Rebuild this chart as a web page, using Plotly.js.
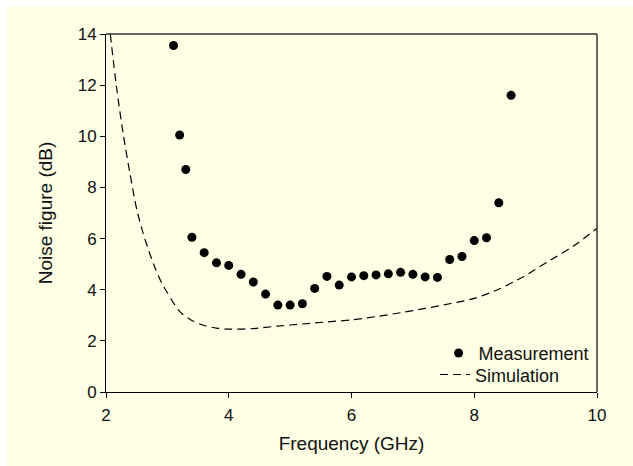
<!DOCTYPE html>
<html>
<head>
<meta charset="utf-8">
<script src="https://cdn.plot.ly/plotly-3.0.1.min.js"></script>
<style>
  html, body { margin: 0; padding: 0; background: #ffffff; }
  #chart { position: absolute; left: 6px; top: 7px; width: 627px; height: 459px; }
</style>
</head>
<body>
<div id="chart"></div>
<script>
// Measurement data (frequency in GHz, noise figure in dB)
const measFreq = [3.1, 3.2, 3.3, 3.4, 3.6, 3.8, 4.0, 4.2, 4.4, 4.6, 4.8, 5.0, 5.2, 5.4, 5.6, 5.8,
                  6.0, 6.2, 6.4, 6.6, 6.8, 7.0, 7.2, 7.4, 7.6, 7.8, 8.0, 8.2, 8.4, 8.6];
const measNF   = [13.55, 10.05, 8.7, 6.05, 5.45, 5.05, 4.95, 4.6, 4.3, 3.83, 3.4, 3.4, 3.45, 4.05, 4.52, 4.18,
                  4.5, 4.55, 4.58, 4.62, 4.68, 4.6, 4.5, 4.48, 5.18, 5.3, 5.92, 6.03, 7.4, 11.6];

// Simulation curve
const simFreq = [2.07, 2.17, 2.28, 2.39, 2.5, 2.6, 2.7, 2.8, 2.9, 3.0, 3.2, 3.4, 3.6, 3.8, 4.0, 4.4,
                 4.8, 5.2, 5.6, 6.0, 6.4, 6.8, 7.2, 7.6, 8.0, 8.4, 8.8, 9.2, 9.6, 10.0];
const simNF   = [14.0, 11.95, 10.1, 8.55, 7.15, 6.25, 5.5, 4.85, 4.3, 3.88, 3.15, 2.8, 2.6, 2.5, 2.46, 2.48,
                 2.58, 2.66, 2.74, 2.82, 2.95, 3.1, 3.27, 3.45, 3.66, 4.02, 4.51, 5.1, 5.68, 6.4];

const xTicks = [2, 4, 6, 8, 10];
const yTicks = [0, 2, 4, 6, 8, 10, 12, 14];

const font = 'Arial, "Liberation Sans", sans-serif';

const traces = [
  {
    x: measFreq, y: measNF, type: 'scatter', mode: 'markers', name: 'Measurement',
    marker: { color: '#000000', size: 9, symbol: 'circle' }, legend: 'legend'
  },
  {
    x: simFreq, y: simNF, type: 'scatter', mode: 'lines', name: 'Simulation',
    line: { color: '#000000', width: 1.2, dash: '8px,5px', shape: 'spline', smoothing: 0.8 },
    legend: 'legend2'
  }
];

const legendBase = {
  xanchor: 'right', yanchor: 'middle',
  bgcolor: 'rgba(0,0,0,0)', borderwidth: 0,
  font: { family: font, size: 18, color: '#111111' }
};

const layout = {
  width: 627, height: 459,
  paper_bgcolor: '#FFFFE5', plot_bgcolor: '#FFFFE5',
  margin: { l: 100, r: 36, t: 27, b: 74 },
  font: { family: font, color: '#111111', size: 17 },
  showlegend: true,
  legend: Object.assign({}, legendBase, { x: 0.995, y: 0.108 }),
  legend2: Object.assign({}, legendBase, { x: 0.935, y: 0.048 }),
  xaxis: {
    range: [2, 10], tickvals: xTicks, ticktext: xTicks.map(String),
    showgrid: false, zeroline: false, showline: true, linecolor: '#000000', linewidth: 1,
    ticks: 'outside', ticklen: 5, tickcolor: '#000000', tickwidth: 1, ticklabelstandoff: 3,
    tickfont: { family: font, size: 17, color: '#111111' },
    title: { text: 'Frequency (GHz)', font: { family: font, size: 19, color: '#111111' }, standoff: 12 }
  },
  yaxis: {
    range: [0, 14], tickvals: yTicks, ticktext: yTicks.map(String),
    showgrid: false, zeroline: false, showline: true, linecolor: '#000000', linewidth: 1,
    ticks: 'outside', ticklen: 5, tickcolor: '#000000', tickwidth: 1,
    tickfont: { family: font, size: 17, color: '#111111' },
    title: { text: 'Noise figure (dB)', font: { family: font, size: 19, color: '#111111' }, standoff: 20 }
  },
  shapes: [
    { type: 'line', xref: 'paper', yref: 'paper', x0: 0, x1: 1, y0: 1, y1: 1,
      line: { color: '#333333', width: 1.5 } },
    { type: 'line', xref: 'paper', yref: 'paper', x0: 1, x1: 1, y0: 0, y1: 1,
      line: { color: '#333333', width: 1.5 } }
  ]
};

Plotly.newPlot('chart', traces, layout, { displayModeBar: false, staticPlot: true });
</script>
</body>
</html>
